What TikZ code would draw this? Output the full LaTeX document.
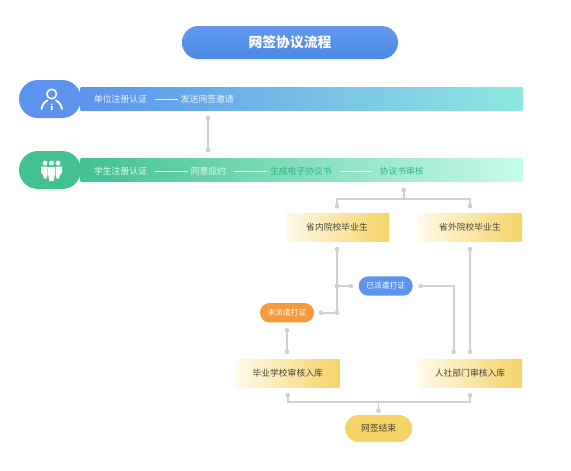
\documentclass[tikz,border=0pt]{standalone}
\usepackage{xcolor}
\usepackage{fontspec}
\setmainfont{Noto Sans CJK SC}
\usetikzlibrary{arrows.meta,positioning,calc}

\definecolor{skyblue}{HTML}{5B93EE}
\definecolor{skytop}{HTML}{6497EF}
\definecolor{skylow}{HTML}{4A8AE6}
\definecolor{skyend}{HTML}{8FE8E0}
\definecolor{leaf}{HTML}{43C190}
\definecolor{leafend}{HTML}{C6FBEA}
\definecolor{leafink}{HTML}{2FB583}
\definecolor{sand}{HTML}{F5D367}
\definecolor{sandend}{HTML}{FFFAEA}
\definecolor{tangerine}{HTML}{F79A3C}
\definecolor{tiegray}{HTML}{D0D0D0}
\definecolor{inkbrown}{HTML}{4A4436}

\begin{document}
\begin{tikzpicture}[x=1pt, y=-1pt, font=\fontsize{8.8pt}{10pt}\selectfont,
  tie/.style={draw=tiegray, line width=1.7pt},
  dotmark/.style={circle, fill=tiegray, inner sep=0pt, outer sep=0pt, minimum size=4.8pt},
  dash line/.style={draw=white, line width=.9pt, shorten <=8pt, shorten >=3pt},
  stagetext/.style={inner sep=0pt, outer sep=0pt, anchor=center},
  sandbox/.style={minimum width=104pt, minimum height=27.5pt, inner sep=0pt, outer sep=0pt, left color=sandend, right color=sand, text=inkbrown},
  tagpill/.style={minimum width=54pt, minimum height=19.4pt, inner sep=0pt, outer sep=0pt, rounded corners=9.7pt, text=white, font=\fontsize{7.7pt}{9pt}\selectfont},
  bandbox/.style={minimum width=442pt, minimum height=23.5pt, inner sep=0pt, outer sep=0pt},
  headpill/.style={minimum width=62pt, minimum height=38pt, inner sep=0pt, outer sep=0pt, rounded corners=19pt}]
  \useasboundingbox[fill=white] (0,0) rectangle (571,471);
  % title
  \node[minimum width=216pt, minimum height=33pt, rounded corners=16.5pt, inner sep=0pt, top color=skytop, bottom color=skylow, text=white, font=\fontsize{13.8pt}{16pt}\selectfont\bfseries](title) at (290,42.5){网签协议流程};
  % the two bands
  \node[bandbox, left color=skyblue, right color=skyend](unitband) at (301.5,98.8){};
  \node[headpill, fill=skyblue](unitpill) at (50,99){};
  \node[bandbox, left color=leaf, right color=leafend](stuband) at (301.5,170){};
  \node[headpill, fill=leaf](stupill) at (50,170){};
  % person icon
  \draw[white, line width=1.6pt] (51.7,94) circle (4.8pt);
  \draw[white, line width=1.8pt, line cap=round] (41.5,109) .. controls (42.5,103.5) and (45.5,101.5) .. (47.5,100.5);
  \draw[white, line width=1.8pt, line cap=round] (62,109) .. controls (61,103.5) and (58,101.5) .. (56,100.5);
  \fill[white] (51.7,104.3) circle (1pt) (50.9,106) rectangle (52.5,110);
  % people icon
  \foreach \hx/\hy in {45/163,51.5/163,58/163}{\fill[white] (\hx,\hy) circle (2.5pt);}
  \fill[white] (41,166.5) -- (47.5,166.5) -- (47.5,175) -- (46.5,178.5) -- (44,178.5) -- (43,175) -- (41,172.5) -- cycle;
  \fill[white] (55.5,166.5) -- (62,166.5) -- (62,172.5) -- (60,175) -- (59,178.5) -- (56.5,178.5) -- (55.5,175) -- cycle;
  \fill[white] (48.2,167) -- (54.8,167) -- (54.8,174.5) -- (53.8,181) -- (49.2,181) -- (48.2,174.5) -- cycle;
  % first band texts
  \node[stagetext, text=white!90!skyblue](u1) at (120.5,99){单位注册认证};
  \node[stagetext, text=white!90!skyblue, right=34pt of u1](u2){发送网签邀请};
  \draw[dash line] (u1) -- (u2);
  % second band texts
  \node[stagetext, text=white!90!leaf](s1) at (120.5,171){学生注册认证};
  \node[stagetext, text=white!90!leaf, right=44pt of s1](s2){同意应约};
  \node[stagetext, text=leafink, right=44pt of s2](s3){生成电子协议书};
  \node[stagetext, text=leafink, right=48pt of s3](s4){协议书审核};
  \foreach \a/\b in {s1/s2,s2/s3}{\draw[dash line](\a)--(\b);}
  \draw[dash line, shorten >=8pt](s3)--(s4);
  % boxes and pills
  \node[sandbox](inbox) at (337,227.5){省内院校毕业生};
  \node[sandbox](outbox) at (470,227.5){省外院校毕业生};
  \node[sandbox](gradbox) at (287.7,373.5){毕业学校审核入库};
  \node[sandbox](hrbox) at (470,373.5){人社部门审核入库};
  \node[tagpill, fill=skyblue](issued) at (385.7,286){已派遣打证};
  \node[tagpill, fill=tangerine](unissued) at (287,312.7){未派遣打证};
  \node[minimum width=67pt, minimum height=27pt, inner sep=0pt, outer sep=0pt, rounded corners=13.5pt, fill=sand, text=inkbrown](finish) at (378.6,428.5){网签结束};
  % dots
  \node[dotmark](d1) at (208,118){};
  \node[dotmark](d2) at (208,150){};
  \node[dotmark](d3) at (403.7,190){};
  \node[dotmark](d4) at ([yshift=7.5pt]inbox.north){};
  \node[dotmark](d5) at ([yshift=7.5pt]outbox.north){};
  \node[dotmark](d6) at ([yshift=-8pt]inbox.south){};
  \node[dotmark](d7) at ([yshift=-8pt]outbox.south){};
  \node[dotmark](d8) at (inbox.south |- issued){};
  \node[dotmark](d9) at (inbox.south |- unissued){};
  \node[dotmark](d10) at ([xshift=-8pt]issued.west){};
  \node[dotmark](d11) at ([xshift=7pt]unissued.east){};
  \node[dotmark](d12) at ([xshift=8pt]issued.east){};
  \node[dotmark](d13) at ([xshift=-16.3pt,yshift=8pt]hrbox.north){};
  \node[dotmark](d14) at ([yshift=8pt]hrbox.north){};
  \node[dotmark](d15) at ([yshift=-8pt]unissued.south){};
  \node[dotmark](d16) at ([xshift=-.7pt,yshift=8pt]gradbox.north){};
  \node[dotmark](d17) at ([yshift=-8pt]gradbox.south){};
  \node[dotmark](d18) at ([yshift=-8pt]hrbox.south){};
  \node[dotmark](d19) at ([yshift=4.3pt]finish.north){};
  % connectors
  \foreach \a/\b in {d1/d2,d6/d9,d8/d10,d9/d11,d7/d14,d15/d16}{\draw[tie](\a.center)--(\b.center);}
  \draw[tie] (d4.center) |- (d3.center |- 0,199) -| (d5.center);
  \draw[tie] (d3.center) -- (d3.center |- 0,199);
  \draw[tie] (d12.center) -| (d13.center);
  \draw[tie] (d17.center) |- (d19.center |- 0,402) -| (d18.center);
  \draw[tie] (d19.center) -- (d19.center |- 0,402);
\end{tikzpicture}
\end{document}
